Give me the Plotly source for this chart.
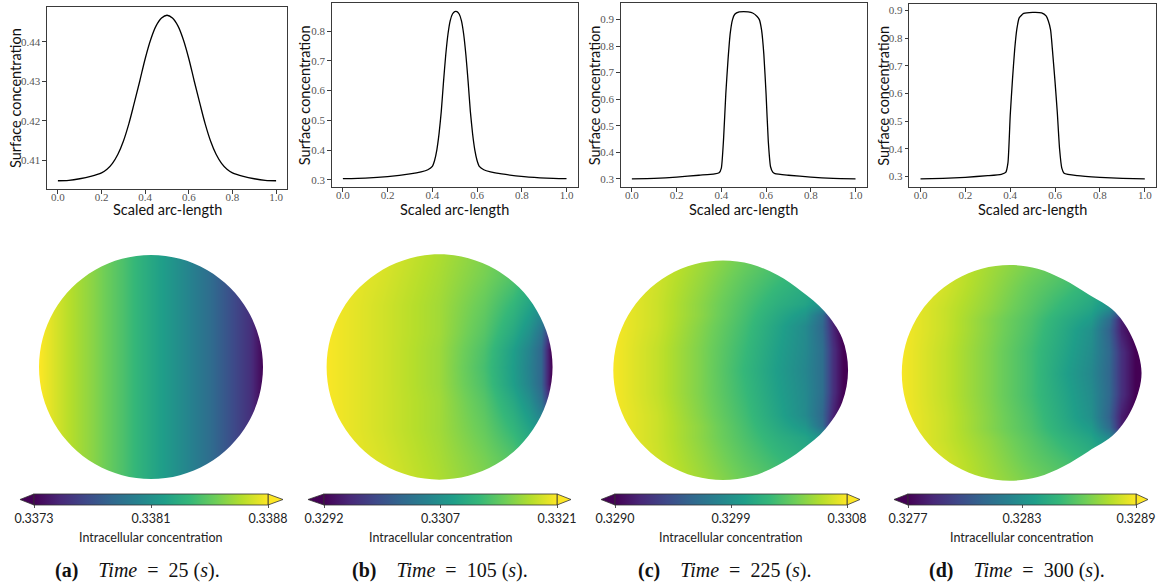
import numpy as np
import plotly.graph_objects as go

W, H = 1164, 585

# ---------------------------------------------------------------
# Surface concentration along the scaled arc-length of the membrane
# ---------------------------------------------------------------
arc_a = [0.0, 0.05, 0.10, 0.15, 0.20, 0.225, 0.25, 0.275, 0.30, 0.325, 0.35, 0.375, 0.40, 0.425,
         0.45, 0.475, 0.50, 0.525, 0.55, 0.575, 0.60, 0.625, 0.65, 0.675, 0.70, 0.725, 0.75,
         0.775, 0.80, 0.85, 0.90, 0.95, 1.0]
surf_a = [0.4048, 0.4049, 0.4053, 0.4059, 0.4068, 0.4077, 0.4092, 0.4115, 0.4148, 0.4192, 0.4245, 0.4300, 0.4357, 0.4405,
          0.4440, 0.4460, 0.4467, 0.4460, 0.4440, 0.4405, 0.4357, 0.4300, 0.4245, 0.4192, 0.4148, 0.4115, 0.4092,
          0.4077, 0.4068, 0.4059, 0.4053, 0.4049, 0.4048]

arc_b = [0.0, 0.1, 0.2, 0.3, 0.35, 0.38, 0.40, 0.41, 0.42, 0.43, 0.44, 0.45, 0.46, 0.47,
         0.48, 0.49, 0.50, 0.51, 0.52, 0.53, 0.54, 0.55, 0.56, 0.57, 0.58, 0.59, 0.60,
         0.61, 0.63, 0.66, 0.71, 0.81, 0.91, 1.0]
surf_b = [0.304, 0.306, 0.311, 0.320, 0.327, 0.334, 0.345, 0.365, 0.400, 0.455, 0.530, 0.630, 0.720, 0.790,
          0.835, 0.857, 0.865, 0.865, 0.857, 0.835, 0.790, 0.720, 0.630, 0.530, 0.455, 0.400, 0.365,
          0.345, 0.334, 0.327, 0.320, 0.311, 0.306, 0.304]

arc_c = [0.0, 0.1, 0.2, 0.3, 0.37, 0.39, 0.40, 0.41, 0.42, 0.43, 0.44, 0.45, 0.46, 0.48, 0.50,
         0.52, 0.54, 0.56, 0.57, 0.58, 0.59, 0.60, 0.61, 0.62, 0.63, 0.64, 0.70, 0.80, 0.90, 1.0]
surf_c = [0.299, 0.301, 0.306, 0.313, 0.318, 0.322, 0.340, 0.450, 0.620, 0.750, 0.850, 0.900, 0.920, 0.929, 0.930,
          0.929, 0.925, 0.912, 0.900, 0.860, 0.770, 0.620, 0.440, 0.345, 0.325, 0.319, 0.313, 0.306, 0.301, 0.299]

arc_d = [0.0, 0.1, 0.2, 0.3, 0.36, 0.38, 0.39, 0.40, 0.41, 0.42, 0.43, 0.44, 0.46, 0.50,
         0.54, 0.56, 0.57, 0.58, 0.59, 0.60, 0.61, 0.62, 0.63, 0.64, 0.70, 0.80, 0.90, 1.0]
surf_d = [0.291, 0.293, 0.297, 0.303, 0.308, 0.315, 0.350, 0.520, 0.650, 0.760, 0.835, 0.873, 0.889, 0.893,
          0.891, 0.880, 0.862, 0.830, 0.740, 0.640, 0.530, 0.400, 0.330, 0.312, 0.303, 0.297, 0.293, 0.291]

arc_ticks = ['0.0', '0.2', '0.4', '0.6', '0.8', '1.0']
surf_ticks_a = ['0.41', '0.42', '0.43', '0.44']
surf_ticks_b = ['0.3', '0.4', '0.5', '0.6', '0.7', '0.8']
surf_ticks_c = ['0.3', '0.4', '0.5', '0.6', '0.7', '0.8', '0.9']
surf_ticks_d = ['0.3', '0.4', '0.5', '0.6', '0.7', '0.8', '0.9']

# ---------------------------------------------------------------
# Cell outlines: radius (in units of the cell radius) every 15 degrees
# ---------------------------------------------------------------
outline_deg = [0, 15, 30, 45, 60, 75, 90, 105, 120, 135, 150, 165,
               180, 195, 210, 225, 240, 255, 270, 285, 300, 315, 330, 345]
outline_r_a = [1.0] * 24
outline_r_b = [1.005, 1.003, 1.0, 1.0, 1.0, 1.0, 1.0, 1.0, 1.0, 1.0, 1.0, 1.0,
               1.0, 1.0, 1.0, 1.0, 1.0, 1.0, 1.0, 1.0, 1.0, 1.0, 1.0, 1.003]
outline_r_c = [1.14, 1.125, 1.07, 1.015, 1.0, 1.0, 1.0, 1.0, 1.0, 1.0, 1.0, 1.0,
               1.0, 1.0, 1.0, 1.0, 1.0, 1.0, 1.0, 1.0, 1.0, 1.02, 1.075, 1.125]
outline_r_d = [1.222, 1.185, 1.128, 1.03, 1.0, 1.0, 1.0, 1.0, 1.0, 1.0, 1.0, 1.0,
               1.0, 1.0, 1.0, 1.0, 1.0, 1.0, 1.0, 1.0, 1.0, 1.03, 1.125, 1.186]

# ---------------------------------------------------------------
# Intracellular concentration sampled on a coarse grid (rows y >= 0,
# the lower half is the mirror image)
# ---------------------------------------------------------------
grid_x_a = [-1.05, -0.75, -0.5, -0.25, 0.0, 0.25, 0.5, 0.75, 0.88, 1.02]
grid_y_a = [0.0, 1.05]
conc_a = [
    [0.33883, 0.33865, 0.33852, 0.33837, 0.33820, 0.33804, 0.33786, 0.33763, 0.33751, 0.33727],
    [0.33883, 0.33865, 0.33852, 0.33837, 0.33820, 0.33804, 0.33786, 0.33763, 0.33751, 0.33727],
]

grid_x_b = [-1.05, -0.5, 0.0, 0.4, 0.65, 0.8, 0.9, 0.96, 1.02]
grid_y_b = [0.0, 0.15, 0.3, 0.55, 0.8, 1.05]
conc_b = [
    [0.33210, 0.33190, 0.33167, 0.33123, 0.33080, 0.33048, 0.33016, 0.32955, 0.32903],
    [0.33210, 0.33190, 0.33167, 0.33126, 0.33082, 0.33051, 0.33016, 0.32955, 0.32891],
    [0.33210, 0.33190, 0.33169, 0.33132, 0.33094, 0.33065, 0.33030, 0.32978, 0.32920],
    [0.33210, 0.33190, 0.33169, 0.33140, 0.33111, 0.33088, 0.33065, 0.33051, 0.33051],
    [0.33210, 0.33193, 0.33172, 0.33149, 0.33129, 0.33111, 0.33094, 0.33094, 0.33094],
    [0.33210, 0.33196, 0.33175, 0.33155, 0.33138, 0.33123, 0.33123, 0.33123, 0.33123],
]

grid_x_c = [-1.05, -0.6, -0.2, 0.2, 0.5, 0.75, 0.9, 1.0, 1.08, 1.18]
grid_y_c = [0.0, 0.2, 0.4, 0.5, 0.6, 0.8, 1.05]
conc_c = [
    [0.33080, 0.33064, 0.33044, 0.33019, 0.32999, 0.32983, 0.32965, 0.32925, 0.32905, 0.32882],
    [0.33080, 0.33064, 0.33044, 0.33021, 0.33001, 0.32985, 0.32965, 0.32925, 0.32905, 0.32882],
    [0.33080, 0.33066, 0.33046, 0.33024, 0.33004, 0.32986, 0.32961, 0.32918, 0.32900, 0.32882],
    [0.33080, 0.33066, 0.33048, 0.33026, 0.33008, 0.32994, 0.32965, 0.32909, 0.32900, 0.32900],
    [0.33080, 0.33066, 0.33048, 0.33028, 0.33013, 0.33004, 0.32990, 0.32981, 0.32981, 0.32981],
    [0.33080, 0.33067, 0.33051, 0.33033, 0.33021, 0.33012, 0.33008, 0.33008, 0.33008, 0.33008],
    [0.33080, 0.33069, 0.33055, 0.33040, 0.33030, 0.33022, 0.33022, 0.33022, 0.33022, 0.33022],
]

grid_x_d = [-1.05, -0.6, -0.2, 0.2, 0.5, 0.75, 0.92, 1.03, 1.13, 1.25]
grid_y_d = [0.0, 0.2, 0.4, 0.5, 0.6, 0.8, 1.05]
conc_d = [
    [0.32890, 0.32879, 0.32867, 0.32853, 0.32838, 0.32826, 0.32810, 0.32787, 0.32774, 0.32758],
    [0.32890, 0.32879, 0.32867, 0.32853, 0.32840, 0.32828, 0.32811, 0.32787, 0.32774, 0.32758],
    [0.32890, 0.32880, 0.32868, 0.32855, 0.32842, 0.32830, 0.32808, 0.32780, 0.32770, 0.32758],
    [0.32890, 0.32880, 0.32868, 0.32856, 0.32844, 0.32835, 0.32813, 0.32780, 0.32770, 0.32770],
    [0.32890, 0.32880, 0.32870, 0.32858, 0.32848, 0.32840, 0.32828, 0.32806, 0.32806, 0.32806],
    [0.32890, 0.32882, 0.32872, 0.32861, 0.32854, 0.32847, 0.32842, 0.32842, 0.32842, 0.32842],
    [0.32890, 0.32883, 0.32874, 0.32866, 0.32860, 0.32854, 0.32854, 0.32854, 0.32854, 0.32854],
]

# Colour-bar tick labels (min, mid, max)
cbar_ticks_a = ['0.3373', '0.3381', '0.3388']
cbar_ticks_b = ['0.3292', '0.3307', '0.3321']
cbar_ticks_c = ['0.3290', '0.3299', '0.3308']
cbar_ticks_d = ['0.3277', '0.3283', '0.3289']

panel_letters = ['a', 'b', 'c', 'd']
times = [25, 105, 225, 300]

# ---------------------------------------------------------------
# Layout geometry in pixels
# ---------------------------------------------------------------
top_frames = [(47, 287, 7, 189), (331.7, 577.7, 3.3, 187), (620.7, 866.7, 3.3, 187.3), (909.3, 1156, 4, 187.3)]
ytitle_x = [16, 304, 594, 884]
cell_geom = [(151, 367, 112), (439.3, 367, 112.7), (723, 370.3, 109.7), (1009.7, 372.9, 107.9)]
cell_boxes = [(8, 292), (296, 584), (588, 876), (880, 1162)]
cell_box_y = (238, 489)
cbar_rects = [(34, 268), (324, 557), (615, 847), (908, 1136)]
cbar_tips = [(20, 283), (308, 571), (601, 860), (894, 1148)]
cbar_top, cbar_thick = 494, 11
caption_x = [137, 440, 725, 1017]

SERIF = 'Liberation Serif'
SANS = 'Lato'


def px_x(v):
    return v / W


def px_y(v):
    return 1 - v / H


def smooth_outline(deg, radii):
    th = np.radians(deg)
    r = np.asarray(radii)
    px, py = r * np.cos(th), r * np.sin(th)
    n = len(px)
    d = f"M{px[0]:.5f},{py[0]:.5f}"
    for i in range(n):
        i0, i1, i2, i3 = (i - 1) % n, i, (i + 1) % n, (i + 2) % n
        c1x = px[i1] + (px[i2] - px[i0]) / 6
        c1y = py[i1] + (py[i2] - py[i0]) / 6
        c2x = px[i2] - (px[i3] - px[i1]) / 6
        c2y = py[i2] - (py[i3] - py[i1]) / 6
        d += f" C{c1x:.5f},{c1y:.5f} {c2x:.5f},{c2y:.5f} {px[i2]:.5f},{py[i2]:.5f}"
    return d + " Z"


def mirror_grid(ys_half, rows_half):
    ys = [-y for y in reversed(ys_half[1:])] + list(ys_half)
    rows = list(reversed(rows_half[1:])) + list(rows_half)
    return ys, rows


curves = [(arc_a, surf_a, surf_ticks_a, 1.0), (arc_b, surf_b, surf_ticks_b, 0.5),
          (arc_c, surf_c, surf_ticks_c, 0.5), (arc_d, surf_d, surf_ticks_d, 0.5)]
fields = [(grid_x_a, grid_y_a, conc_a, outline_r_a, cbar_ticks_a),
          (grid_x_b, grid_y_b, conc_b, outline_r_b, cbar_ticks_b),
          (grid_x_c, grid_y_c, conc_c, outline_r_c, cbar_ticks_c),
          (grid_x_d, grid_y_d, conc_d, outline_r_d, cbar_ticks_d)]

fig = go.Figure()
shapes, annotations, layout_axes = [], [], {}

axis_font = dict(family=SERIF, size=11, color='#555555')

for k in range(4):
    # ---------------- surface concentration profile ----------------
    n = k + 1
    xa, ya = ('x', 'y') if n == 1 else (f'x{n}', f'y{n}')
    arc, surf, yt, smooth = curves[k]
    fig.add_trace(go.Scatter(x=arc, y=surf, mode='lines', xaxis=xa, yaxis=ya,
                             line=dict(color='black', width=1.3, shape='spline', smoothing=smooth),
                             hoverinfo='skip', showlegend=False))
    x0, x1, t0, b0 = top_frames[k]
    lo, hi = min(surf), max(surf)
    pad = 0.05 * (hi - lo)
    common = dict(showline=True, mirror=True, linecolor='#3a3a3a', linewidth=1.1,
                  ticks='outside', ticklen=3.5, tickwidth=0.9, tickcolor='#3a3a3a',
                  tickfont=axis_font, showgrid=False, zeroline=False, fixedrange=True)
    layout_axes['xaxis' if n == 1 else f'xaxis{n}'] = dict(
        domain=[px_x(x0), px_x(x1)], anchor=ya, range=[-0.05, 1.05], ticklabelstandoff=-6,
        tickvals=[float(v) for v in arc_ticks], ticktext=arc_ticks, **common)
    layout_axes['yaxis' if n == 1 else f'yaxis{n}'] = dict(
        domain=[px_y(b0), px_y(t0)], anchor=xa, range=[lo - pad, hi + pad],
        tickvals=[float(v) for v in yt], ticktext=yt, **common)
    annotations.append(dict(text='Scaled arc-length', xref='paper', yref='paper',
                            x=px_x((x0 + x1) / 2), y=px_y(209.5), showarrow=False,
                            xanchor='center', yanchor='middle',
                            font=dict(family=SANS, size=14.5, color='#111111')))
    annotations.append(dict(text='Surface concentration', xref='paper', yref='paper',
                            x=px_x(ytitle_x[k]), y=px_y((t0 + b0) / 2), showarrow=False,
                            textangle=-90, xanchor='center', yanchor='middle',
                            font=dict(family=SANS, size=14.5, color='#111111')))

    # ---------------- intracellular concentration in the cell ----------------
    m = k + 5
    gx, gy_half, conc_half, radii, cticks = fields[k]
    gy, conc = mirror_grid(gy_half, conc_half)
    cx, cy, R = cell_geom[k]
    bx0, bx1 = cell_boxes[k]
    by0, by1 = cell_box_y
    xr = [(bx0 - cx) / R, (bx1 - cx) / R]
    yr = [(cy - by1) / R, (cy - by0) / R]
    zlo, zhi = float(cticks[0]), float(cticks[2])
    cb_x0, cb_x1 = cbar_rects[k]
    fig.add_trace(go.Heatmap(
        x=gx, y=gy, z=conc, zsmooth='best', colorscale='Viridis', zmin=zlo, zmax=zhi,
        xaxis=f'x{m}', yaxis=f'y{m}', hoverinfo='skip',
        colorbar=dict(orientation='h', thickness=cbar_thick, lenmode='pixels', len=cb_x1 - cb_x0,
                      x=px_x((cb_x0 + cb_x1) / 2), xanchor='center',
                      y=px_y(cbar_top), yanchor='top', xpad=0, ypad=0,
                      tickvals=[zlo, (zlo + zhi) / 2, zhi], ticktext=cticks,
                      ticks='outside', ticklen=3, tickwidth=0.8, tickcolor='#555555',
                      tickfont=dict(family=SANS, size=12.5, color='#222222'),
                      outlinewidth=0.8, outlinecolor='#333333')))
    layout_axes[f'xaxis{m}'] = dict(domain=[px_x(bx0), px_x(bx1)], anchor=f'y{m}', range=xr,
                                    visible=False, fixedrange=True)
    layout_axes[f'yaxis{m}'] = dict(domain=[px_y(by1), px_y(by0)], anchor=f'x{m}', range=yr,
                                    visible=False, fixedrange=True)
    # white mask around the cell outline
    ox0, ox1 = xr[0] - 0.2, xr[1] + 0.2
    oy0, oy1 = yr[0] - 0.2, yr[1] + 0.2
    mask = (f"M{ox0:.4f},{oy0:.4f} H{ox1:.4f} V{oy1:.4f} H{ox0:.4f} Z "
            + smooth_outline(outline_deg, radii))
    shapes.append(dict(type='path', path=mask, xref=f'x{m}', yref=f'y{m}', layer='above',
                       fillcolor='white', fillrule='evenodd', line=dict(width=0)))

    # colour-bar extension triangles
    tl, tr = cbar_tips[k]
    ymid = cbar_top + cbar_thick / 2
    for tip, base, col in ((tl, cb_x0, '#440154'), (tr, cb_x1, '#fde725')):
        shapes.append(dict(type='path', xref='paper', yref='paper', layer='above',
                           path=(f"M{px_x(tip):.5f},{px_y(ymid):.5f} "
                                 f"L{px_x(base):.5f},{px_y(cbar_top):.5f} "
                                 f"L{px_x(base):.5f},{px_y(cbar_top + cbar_thick):.5f} Z"),
                           fillcolor=col, line=dict(color='#333333', width=0.8)))
    annotations.append(dict(text='Intracellular concentration', xref='paper', yref='paper',
                            x=px_x((cb_x0 + cb_x1) / 2), y=px_y(537), showarrow=False,
                            xanchor='center', yanchor='middle',
                            font=dict(family=SANS, size=12.5, color='#222222')))
    annotations.append(dict(text=(f"<b>({panel_letters[k]})</b>\u2003<i>Time</i>\u2002=\u2002"
                                  f"{times[k]} (<i>s</i>)."),
                            xref='paper', yref='paper', x=px_x(caption_x[k]), y=px_y(570),
                            showarrow=False, xanchor='center', yanchor='middle',
                            font=dict(family=SERIF, size=20, color='#111111')))

fig.update_layout(width=W, height=H, margin=dict(l=0, r=0, t=0, b=0),
                  paper_bgcolor='white', plot_bgcolor='white', showlegend=False,
                  shapes=shapes, annotations=annotations, **layout_axes)

fig.write_html("out.html")
